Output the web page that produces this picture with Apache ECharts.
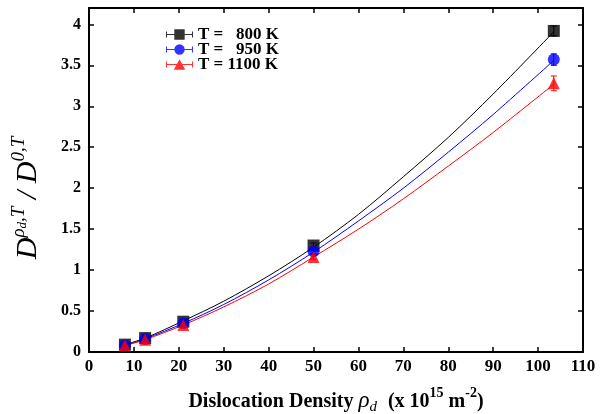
<!DOCTYPE html>
<html>
<head>
<meta charset="utf-8">
<script src="https://cdn.jsdelivr.net/npm/echarts@6/dist/echarts.min.js"></script>
<style>
  html, body { margin: 0; padding: 0; background: #fff; }
  #chart { width: 613px; height: 414px; }
</style>
</head>
<body>
<div id="chart"></div>
<script>
// measured points
const densities = [8, 12.5, 21, 50, 103.5];
const d800 = [0.09, 0.17, 0.37, 1.30, 3.92];
const d950 = [0.08, 0.16, 0.35, 1.23, 3.57];
const d1100 = [0.08, 0.15, 0.33, 1.16, 3.28];
const err800 = [0.01, 0.01, 0.02, 0.03, 0.06];
const err950 = [0.01, 0.01, 0.02, 0.03, 0.07];
const err1100 = [0.01, 0.01, 0.02, 0.03, 0.09];

// fitted curves
const fitX = [8, 12.5, 21, 30, 40, 50, 60, 70, 80, 90, 103.5];
const fit800 = [0.09, 0.17, 0.38, 0.62, 0.93, 1.28, 1.68, 2.14, 2.62, 3.15, 3.91];
const fit950 = [0.08, 0.16, 0.35, 0.58, 0.88, 1.22, 1.60, 2.00, 2.44, 2.90, 3.56];
const fit1100 = [0.08, 0.15, 0.33, 0.55, 0.83, 1.16, 1.50, 1.87, 2.27, 2.68, 3.27];

const legendNames = ['T =   800 K', 'T =   950 K', 'T = 1100 K'];
const colors = ['#000000', '#0000ff', '#ff0000'];

const bars = 'M0 4.5 H26 V5.5 H0 Z M0 2 H1 V8 H0 Z M25 2 H26 V8 H25 Z ';
const icons = [
  'path://' + bars + 'M8 0 H18 V10 H8 Z',
  'path://' + bars + 'M8 5 A5 5 0 1 1 18 5 A5 5 0 1 1 8 5 Z',
  'path://' + bars + 'M13 0 L18.5 10 L7.5 10 Z'
];

const pairs = (xs, ys) => xs.map((x, i) => [x, ys[i]]);
const errPairs = (ys, es) => densities.map((x, i) => [x, ys[i], es[i]]);

const serif = '"Liberation Serif", "DejaVu Serif", serif';

const chart = echarts.init(document.getElementById('chart'));

function errorBar(color) {
  return function (params, api) {
    const x = api.value(0), y = api.value(1), e = api.value(2);
    const hi = api.coord([x, y + e]);
    const lo = api.coord([x, y - e]);
    const w = 3;
    const st = { stroke: color, lineWidth: 1 };
    return {
      type: 'group',
      children: [
        { type: 'line', shape: { x1: hi[0], y1: hi[1], x2: lo[0], y2: lo[1] }, style: st },
        { type: 'line', shape: { x1: hi[0] - w, y1: hi[1], x2: hi[0] + w, y2: hi[1] }, style: st },
        { type: 'line', shape: { x1: lo[0] - w, y1: lo[1], x2: lo[0] + w, y2: lo[1] }, style: st }
      ]
    };
  };
}

const axisCommon = {
  type: 'value',
  axisLine: { show: true, onZero: false, lineStyle: { color: '#000', width: 2 } },
  axisTick: { show: true, inside: true, length: 5, lineStyle: { color: '#000', width: 1.5 } },
  splitLine: { show: false }
};

const option = {
  animation: false,
  backgroundColor: '#fff',
  grid: { left: 89, right: 30, top: 8, bottom: 62, outerBoundsMode: 'none' },
  legend: {
    orient: 'vertical',
    left: 161,
    top: 21,
    itemWidth: 27,
    itemHeight: 11,
    itemGap: -2,
    textStyle: { fontFamily: serif, fontWeight: 'bold', fontSize: 17, lineHeight: 15, color: '#000' },
    data: legendNames.map((n, i) => ({ name: n, icon: icons[i] }))
  },
  xAxis: [
    Object.assign({}, axisCommon, {
      min: 0, max: 110, interval: 10,
      axisLabel: { fontFamily: serif, fontWeight: 'bold', fontSize: 17, color: '#000', margin: 6 },
      name: '{b|Dislocation Density }{i|ρ}{isub|d}{b| (x 10}{sup|15}{b| m}{sup|-2}{b|)}',
      nameLocation: 'middle',
      nameGap: 34,
      nameTextStyle: {
        rich: {
          b: { fontFamily: serif, fontWeight: 'bold', fontSize: 20, color: '#000', lineHeight: 26, verticalAlign: 'bottom' },
          i: { fontFamily: serif, fontStyle: 'italic', fontSize: 23, color: '#000', lineHeight: 26, verticalAlign: 'bottom' },
          isub: { fontFamily: serif, fontStyle: 'italic', fontSize: 15, color: '#000', lineHeight: 26, verticalAlign: 'bottom', padding: [0, 6, -3, 0] },
          sup: { fontFamily: serif, fontWeight: 'bold', fontSize: 14, color: '#000', lineHeight: 26, verticalAlign: 'top' }
        }
      }
    }),
    Object.assign({}, axisCommon, {
      min: 0, max: 110, interval: 10, position: 'top',
      axisLabel: { show: false }
    })
  ],
  yAxis: [
    Object.assign({}, axisCommon, {
      min: 0, max: 4.2, interval: 0.5,
      axisLabel: {
        fontFamily: serif, fontWeight: 'bold', fontSize: 16, color: '#000', margin: 8,
        formatter: v => (v > 4.1 ? '' : String(v))
      },
      name: '{d|D}{sup|ρ}{ssub|d}{sup|,T}{d| / D}{sup|0,T}',
      nameLocation: 'middle',
      nameRotate: 90,
      nameGap: 46,
      nameTextStyle: {
        padding: [0, 36, 0, 0],
        rich: {
          d: { fontFamily: serif, fontStyle: 'italic', fontSize: 30, color: '#000', lineHeight: 34, verticalAlign: 'bottom' },
          sup: { fontFamily: serif, fontStyle: 'italic', fontSize: 19, color: '#000', lineHeight: 34, verticalAlign: 'top' },
          ssub: { fontFamily: serif, fontStyle: 'italic', fontSize: 13, color: '#000', lineHeight: 34, verticalAlign: 'top', padding: [7, 0, 0, 0] }
        }
      }
    }),
    Object.assign({}, axisCommon, {
      min: 0, max: 4.2, interval: 0.5, position: 'right',
      axisLabel: { show: false }
    })
  ],
  series: [
    { type: 'line', name: 'fit800', data: pairs(fitX, fit800), smooth: 0.3, showSymbol: false, lineStyle: { color: colors[0], width: 1 }, z: 2 },
    { type: 'line', name: 'fit950', data: pairs(fitX, fit950), smooth: 0.3, showSymbol: false, lineStyle: { color: colors[1], width: 1 }, z: 2 },
    { type: 'line', name: 'fit1100', data: pairs(fitX, fit1100), smooth: 0.3, showSymbol: false, lineStyle: { color: colors[2], width: 1 }, z: 2 },
    { type: 'custom', name: 'e800', data: errPairs(d800, err800), renderItem: errorBar(colors[0]), z: 3 },
    { type: 'custom', name: 'e950', data: errPairs(d950, err950), renderItem: errorBar(colors[1]), z: 3 },
    { type: 'custom', name: 'e1100', data: errPairs(d1100, err1100), renderItem: errorBar(colors[2]), z: 3 },
    { type: 'scatter', name: legendNames[0], data: pairs(densities, d800), symbol: 'rect', symbolSize: 12, itemStyle: { color: colors[0] }, z: 4 },
    { type: 'scatter', name: legendNames[1], data: pairs(densities, d950), symbol: 'circle', symbolSize: 12, itemStyle: { color: colors[1] }, z: 5 },
    { type: 'scatter', name: legendNames[2], data: pairs(densities, d1100), symbol: 'triangle', symbolSize: 12, itemStyle: { color: colors[2] }, z: 6 }
  ]
};

chart.setOption(option);
</script>
</body>
</html>
